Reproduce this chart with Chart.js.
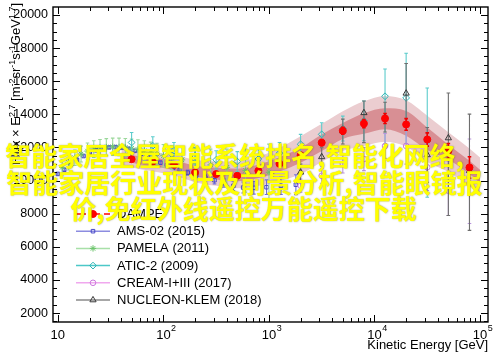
<!DOCTYPE html>
<html><head><meta charset="utf-8">
<script src="https://cdn.jsdelivr.net/npm/chart.js@4.4.1/dist/chart.umd.min.js"></script>
<style>html,body{margin:0;padding:0;background:#fff;}canvas{display:block;}</style>
</head><body>
<canvas id="c" width="500" height="359"></canvas>
<script>
// ---------------- data ----------------
const seriesNames = ['DAMPE', 'AMS-02 (2015)', 'PAMELA (2011)', 'ATIC-2 (2009)', 'CREAM-I+III (2017)', 'NUCLEON-KLEM (2018)'];
const xTickDecades = [10, 100, 1000, 10000, 100000];
const yTicks = [2000, 4000, 6000, 8000, 10000, 12000, 14000, 16000, 18000, 20000];

const dampeE   = [50, 79.4, 125.9, 199.5, 316.2, 501.2, 794.3, 1259, 1995, 3162, 5012, 7943, 12589, 19953, 31623, 50119, 79433];
const dampeV   = [11290, 11150, 10950, 10490, 10390, 10290, 10590, 11010, 11530, 12290, 13010, 13440, 13750, 13390, 12480, 11790, 10790];
const dampeErr = [80, 80, 80, 80, 90, 100, 110, 130, 150, 180, 210, 250, 300, 350, 400, 450, 650];

const bandE    = [40, 50, 79.4, 125.9, 199.5, 316.2, 501.2, 794.3, 1259, 1995, 3162, 5012, 7943, 12589, 19953, 31623, 50119, 79433, 100000];
const bandOuterHi = [11900, 11800, 11680, 11540, 11260, 11160, 11140, 11440, 11980, 12680, 13430, 14190, 14790, 15110, 14850, 13920, 12920, 11940, 11400];
const bandInnerHi = [11650, 11530, 11380, 11210, 10900, 10770, 10720, 10970, 11410, 11980, 12780, 13470, 14060, 14360, 14200, 13200, 12170, 11190, 10650];
const bandInnerLo = [11250, 11070, 10860, 10630, 10260, 10070, 9960, 10150, 10550, 11080, 11780, 12510, 12820, 13100, 12700, 11840, 11270, 10390, 9850];
const bandOuterLo = [11000, 10800, 10560, 10300, 9900, 9680, 9540, 9680, 9980, 10380, 11130, 11790, 12090, 12350, 12050, 11120, 10520, 9640, 9100];

const amsE   = [10, 11.5, 13.2, 15.2, 17.5, 20.1, 23.1, 26.6, 30.6, 35.2, 40.5, 46.6, 53.6, 61.6, 70.9, 81.5, 93.7, 108, 124, 143, 170, 205, 250, 305, 375, 460, 570, 720, 950, 1300, 1800];
const amsV   = [10400, 10650, 10950, 11250, 11480, 11680, 11830, 11940, 12000, 12020, 11990, 11920, 11800, 11620, 11420, 11250, 11080, 10920, 10780, 10640, 10480, 10330, 10180, 10020, 9850, 9680, 9580, 9560, 9600, 9680, 9750];
const amsErr = [60, 60, 60, 60, 60, 60, 60, 60, 60, 60, 70, 70, 70, 80, 80, 90, 100, 110, 120, 130, 150, 170, 190, 220, 250, 290, 330, 380, 440, 520, 600];

const pamE   = [11, 12.6, 14.5, 16.6, 19.1, 21.9, 25.1, 28.8, 33.1, 38, 43.6, 50, 57.4, 66, 75.7, 86.9, 100, 120, 150, 200, 280, 400, 600, 1000];
const pamV   = [10800, 11100, 11380, 11600, 11780, 11900, 11980, 12020, 12040, 12030, 12000, 11950, 11880, 11800, 11700, 11600, 11500, 11380, 11250, 11100, 10950, 10800, 10600, 10500];
const pamErr = [450, 460, 470, 480, 490, 500, 500, 510, 520, 530, 540, 560, 580, 600, 620, 650, 680, 720, 780, 850, 950, 1100, 1300, 1700];

const aticE     = [50, 79.4, 125.9, 199.5, 316.2, 501.2, 794.3, 1259, 1995, 3162, 5012, 7943, 12589, 19953, 31623];
const aticV     = [12300, 12100, 11800, 11500, 11250, 11150, 11300, 11650, 12190, 12790, 13140, 13600, 15090, 14990, 12390];
const aticErrHi = [600, 550, 500, 500, 550, 600, 650, 650, 600, 700, 750, 1200, 1650, 2700, 3200];
const aticErrLo = [600, 550, 500, 500, 550, 600, 650, 650, 600, 700, 750, 1200, 2900, 2750, 3400];

const creamE     = [1995, 3162, 5012, 7943, 12589, 19953, 31623, 50119, 79433];
const creamV     = [9690, 10290, 11010, 11300, 12090, 12090, 10800, 9390, 9810];
const creamErrHi = [400, 450, 550, 700, 750, 1100, 1400, 1800, 2700];
const creamErrLo = [400, 450, 550, 700, 750, 1100, 1400, 1500, 2400];

const nucE     = [1995, 3162, 5012, 7943, 12589, 19953, 31623, 50119, 79433];
const nucV     = [10500, 11430, 12990, 14090, 13830, 15270, 11550, 12570, 10590];
const nucErrHi = [500, 550, 720, 710, 900, 1800, 1650, 2720, 3420];
const nucErrLo = [500, 550, 780, 1800, 900, 1800, 1650, 4680, 3600];

const overlayLines = ['智能家居全屋智能系统排名,智能化网络,', '智能家居行业现状及前景分析,智能眼镜报', '价,免红外线遥控万能遥控下载'];

// ---------------- helpers ----------------
const FONT = '"Liberation Sans", Arial, Helvetica, sans-serif';
const pts = (xs, ys) => xs.map((x, i) => ({x: x, y: ys[i]}));

function markerSet(label, xs, ys, hi, lo, style, color, errColor, radius, filled, legendLine, dashed) {
  return {
    label: label, data: pts(xs, ys), showLine: false,
    pointStyle: style, pointRadius: radius, pointBorderWidth: 1,
    pointBorderColor: color, pointBackgroundColor: filled ? color : 'rgba(0,0,0,0)',
    borderColor: color, backgroundColor: filled ? color : 'rgba(0,0,0,0)',
    errHi: hi, errLo: lo, errColor: errColor, legendLine: legendLine, legendDashed: dashed
  };
}
function bandSet(ys, fill, color) {
  return { data: pts(bandE, ys), pointRadius: 0, borderWidth: 0, borderColor: 'rgba(0,0,0,0)',
           backgroundColor: color, fill: fill, cubicInterpolationMode: 'monotone', isBand: true };
}

const datasets = [
  markerSet(seriesNames[0], dampeE, dampeV, dampeErr, dampeErr, 'circle', '#ff0000', '#ee0000', 3.5, true, '#ff0000', true),
  markerSet(seriesNames[5], nucE, nucV, nucErrHi, nucErrLo, 'triangle', '#3a3a3a', '#6e6e6e', 3.6, false, '#8a8a8a', false),
  markerSet(seriesNames[4], creamE, creamV, creamErrHi, creamErrLo, 'circle', '#cc77dd', '#b994dd', 2.8, false, '#f0a8ee', false),
  markerSet(seriesNames[3], aticE, aticV, aticErrHi, aticErrLo, 'rectRot', '#2fb5b5', '#5ccccc', 3.4, false, '#4cc8c8', false),
  markerSet(seriesNames[2], pamE, pamV, pamErr, pamErr, 'star', '#6cc46c', '#9cd89c', 3.2, false, '#a8e0a8', false),
  markerSet(seriesNames[1], amsE, amsV, amsErr, amsErr, 'rect', '#4848c8', '#7070d8', 2.5, false, '#8c8ce0', false),
  bandSet(bandInnerHi, '+1', 'rgb(216,143,148)'),
  bandSet(bandInnerLo, false, 'rgb(216,143,148)'),
  bandSet(bandOuterHi, '+1', 'rgb(235,205,208)'),
  bandSet(bandOuterLo, false, 'rgb(235,205,208)')
];

// error bars drawn just before each dataset's markers
const errPlugin = {
  id: 'errbars',
  beforeDatasetDraw(chart, args) {
    const ds = chart.data.datasets[args.index];
    if (!ds.errHi) return;
    const ctx = chart.ctx, ys = chart.scales.y, a = chart.chartArea;
    ctx.save();
    ctx.beginPath(); ctx.rect(a.left, a.top, a.right - a.left, a.bottom - a.top); ctx.clip();
    ctx.strokeStyle = ds.errColor; ctx.lineWidth = ds.label === 'DAMPE' ? 1.6 : 1.1;
    ctx.beginPath();
    args.meta.data.forEach((p, i) => {
      const v = ds.data[i].y;
      const yt = ys.getPixelForValue(v + ds.errHi[i]);
      const yb = ys.getPixelForValue(v - ds.errLo[i]);
      ctx.moveTo(p.x, yt); ctx.lineTo(p.x, yb);
      ctx.moveTo(p.x - 1.8, yt); ctx.lineTo(p.x + 1.8, yt);
      ctx.moveTo(p.x - 1.8, yb); ctx.lineTo(p.x + 1.8, yb);
    });
    ctx.stroke();
    ctx.restore();
  }
};

function drawMarker(ctx, style, x, y, r) {
  if (Chart.helpers && Chart.helpers.drawPoint) {
    Chart.helpers.drawPoint(ctx, {pointStyle: style, radius: r, rotation: 0, borderWidth: 1}, x, y);
    return;
  }
  ctx.beginPath();
  if (style === 'circle') ctx.arc(x, y, r, 0, Math.PI * 2);
  else if (style === 'rect') ctx.rect(x - r, y - r, 2 * r, 2 * r);
  else if (style === 'rectRot') { ctx.moveTo(x, y - r); ctx.lineTo(x + r, y); ctx.lineTo(x, y + r); ctx.lineTo(x - r, y); ctx.closePath(); }
  else if (style === 'triangle') { ctx.moveTo(x, y - r); ctx.lineTo(x + r * 0.87, y + r * 0.5); ctx.lineTo(x - r * 0.87, y + r * 0.5); ctx.closePath(); }
  else { ctx.moveTo(x - r, y); ctx.lineTo(x + r, y); ctx.moveTo(x, y - r); ctx.lineTo(x, y + r); ctx.moveTo(x - r*0.7, y - r*0.7); ctx.lineTo(x + r*0.7, y + r*0.7); ctx.moveTo(x - r*0.7, y + r*0.7); ctx.lineTo(x + r*0.7, y - r*0.7); }
  ctx.fill(); ctx.stroke();
}

const framePlugin = {
  id: 'frame',
  afterDatasetsDraw(chart) {
    const ctx = chart.ctx, a = chart.chartArea, xs = chart.scales.x, ys = chart.scales.y;
    ctx.save();
    // tick marks (inward, all four sides)
    ctx.strokeStyle = '#000'; ctx.lineWidth = 1;
    ctx.beginPath();
    for (let d = 0; d <= 5; d++) {
      for (let m = 1; m <= 9; m++) {
        const v = m * Math.pow(10, d);
        if (v <= xs.min || v >= xs.max) continue;
        const px = Math.round(xs.getPixelForValue(v)) + 0.5;
        const L = m === 1 ? 7 : 4;
        ctx.moveTo(px, a.bottom); ctx.lineTo(px, a.bottom - L);
        ctx.moveTo(px, a.top); ctx.lineTo(px, a.top + L);
      }
    }
    for (let v = 1500; v < ys.max; v += 500) {
      const py = Math.round(ys.getPixelForValue(v)) + 0.5;
      const L = v % 2000 === 0 ? 7 : 4;
      ctx.moveTo(a.left, py); ctx.lineTo(a.left + L, py);
      ctx.moveTo(a.right, py); ctx.lineTo(a.right - L, py);
    }
    ctx.stroke();
    ctx.lineWidth = 1.4;
    ctx.strokeRect(a.left, a.top, a.right - a.left, a.bottom - a.top);

    // x tick labels 10, 10^2 ...
    ctx.fillStyle = '#000';
    xTickDecades.forEach(v => {
      const px = xs.getPixelForValue(v);
      const e = Math.round(Math.log10(v));
      ctx.font = '13px ' + FONT; ctx.textAlign = 'center'; ctx.textBaseline = 'middle';
      ctx.fillText('10', px, 335);
      if (e > 1) {
        const w = ctx.measureText('10').width;
        ctx.font = '9px ' + FONT; ctx.textAlign = 'left';
        ctx.fillText(String(e), px + w / 2 + 0.5, 329);
      }
    });

    // y axis title with superscripts (rotated)
    const segs = [['Flux \u00d7 E', 0], ['2.7', 1], [' [m', 0], ['-2', 1], ['sr', 0], ['-1', 1], ['s', 0], ['-1', 1], ['GeV', 0], ['1.7', 1], [']', 0]];
    let total = 0;
    segs.forEach(s => { ctx.font = (s[1] ? '9px ' : '13px ') + FONT; total += ctx.measureText(s[0]).width; });
    ctx.translate(20, 0); ctx.rotate(-Math.PI / 2);
    ctx.textAlign = 'left'; ctx.textBaseline = 'alphabetic';
    let tx = -3 - total;
    segs.forEach(s => {
      ctx.font = (s[1] ? '9px ' : '13px ') + FONT;
      ctx.fillText(s[0], tx, s[1] ? -5 : 0);
      tx += ctx.measureText(s[0]).width;
    });
    ctx.restore();

    // legend
    ctx.save();
    const order = [0, 5, 4, 3, 2, 1];
    order.forEach((di, row) => {
      const ds = chart.data.datasets[di];
      const y = 214 + row * 17.2;
      ctx.strokeStyle = ds.legendLine; ctx.lineWidth = 1.5;
      ctx.setLineDash(ds.legendDashed ? [10, 4] : []);
      ctx.beginPath(); ctx.moveTo(76, y); ctx.lineTo(110, y); ctx.stroke();
      ctx.setLineDash([]);
      ctx.strokeStyle = ds.pointBorderColor; ctx.fillStyle = ds.pointBackgroundColor; ctx.lineWidth = 1;
      drawMarker(ctx, ds.pointStyle, 93, y, ds.pointRadius);
      ctx.fillStyle = '#000'; ctx.font = '13px ' + FONT; ctx.textAlign = 'left'; ctx.textBaseline = 'middle';
      ctx.fillText(ds.label, 117, y + 0.5);
    });
    ctx.restore();
  },
  afterDraw(chart) {
    const ctx = chart.ctx;
    ctx.save();
    ctx.font = 'bold 26px "Noto Sans CJK SC", sans-serif';
    ctx.textAlign = 'left'; ctx.textBaseline = 'middle';
    ctx.shadowColor = 'rgba(90,90,0,0.55)'; ctx.shadowBlur = 1.5; ctx.shadowOffsetX = 0.5; ctx.shadowOffsetY = 0.5;
    ctx.fillStyle = '#ffff00';
    const pos = [[5, 156], [6, 183], [70, 209]];
    overlayLines.forEach((t, i) => ctx.fillText(t, pos[i][0], pos[i][1]));
    ctx.restore();
  }
};

new Chart(document.getElementById('c'), {
  type: 'line',
  data: { datasets: datasets },
  options: {
    responsive: false, animation: false, events: [],
    layout: { padding: { left: 0, top: 7, right: 12, bottom: 0 } },
    plugins: { legend: { display: false }, tooltip: { enabled: false } },
    scales: {
      x: {
        type: 'logarithmic', min: 9, max: 119000,
        grid: { display: false, drawTicks: false }, border: { display: false },
        ticks: { display: false },
        title: { display: true, text: 'Kinetic Energy [GeV]', align: 'end', color: '#000',
                 font: { family: FONT, size: 13 }, padding: { top: 0, bottom: 6 } },
        afterFit(s) { s.height = 37; s.paddingLeft = 0; s.paddingRight = 0; }
      },
      y: {
        type: 'linear', min: 1460, max: 20480,
        grid: { display: false, drawTicks: false }, border: { display: false },
        ticks: { color: '#000', font: { family: FONT, size: 12.5 }, padding: 5, callback: v => String(v) },
        afterBuildTicks(s) { s.ticks = yTicks.map(v => ({ value: v })); },
        afterFit(s) { s.width = 53; s.paddingTop = 0; s.paddingBottom = 0; }
      }
    }
  },
  plugins: [errPlugin, framePlugin]
});
</script>
</body></html>
